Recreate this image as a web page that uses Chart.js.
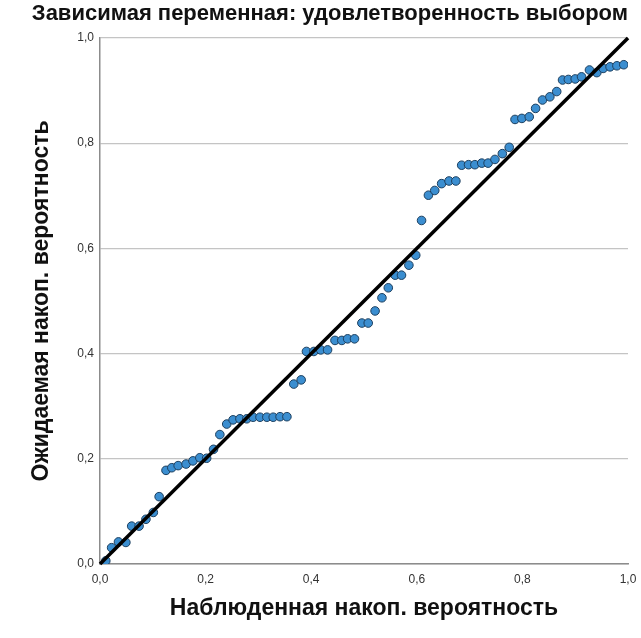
<!DOCTYPE html>
<html>
<head>
<meta charset="utf-8">
<script src="https://cdn.jsdelivr.net/npm/chart.js@4.4.1/dist/chart.umd.min.js"></script>
<style>
  html, body { margin: 0; padding: 0; background: #fff; }
  #wrap { width: 641px; height: 638px; }
</style>
</head>
<body>
<div id="wrap"><canvas id="chart"></canvas></div>
<script>
// observed cumulative probability (x) and expected cumulative probability (y)
const observed = [
  0.011, 0.022, 0.035, 0.049, 0.060, 0.074, 0.087, 0.101, 0.112, 0.125,
  0.136, 0.148, 0.163, 0.176, 0.189, 0.202, 0.215, 0.227, 0.240, 0.252,
  0.265, 0.278, 0.290, 0.303, 0.316, 0.328, 0.341, 0.354, 0.367, 0.381,
  0.391, 0.405, 0.418, 0.431, 0.445, 0.458, 0.469, 0.482, 0.496, 0.508,
  0.521, 0.534, 0.546, 0.559, 0.571, 0.585, 0.598, 0.609, 0.622, 0.634,
  0.647, 0.661, 0.674, 0.685, 0.698, 0.710, 0.723, 0.735, 0.748, 0.762,
  0.775, 0.786, 0.799, 0.813, 0.825, 0.838, 0.852, 0.865, 0.876, 0.887,
  0.900, 0.912, 0.927, 0.941, 0.953, 0.966, 0.979, 0.992
];
const expected = [
  0.006, 0.031, 0.042, 0.041, 0.072, 0.072, 0.085, 0.098, 0.128, 0.178,
  0.183, 0.187, 0.190, 0.196, 0.202, 0.201, 0.218, 0.246, 0.266, 0.274,
  0.276, 0.276, 0.279, 0.279, 0.279, 0.279, 0.280, 0.280, 0.342, 0.350,
  0.404, 0.404, 0.407, 0.407, 0.425, 0.425, 0.428, 0.428, 0.458, 0.458,
  0.481, 0.506, 0.525, 0.549, 0.549, 0.568, 0.587, 0.653, 0.701, 0.710,
  0.723, 0.728, 0.728, 0.758, 0.759, 0.759, 0.762, 0.762, 0.769, 0.780,
  0.792, 0.845, 0.847, 0.850, 0.866, 0.882, 0.888, 0.898, 0.920, 0.921,
  0.922, 0.926, 0.939, 0.934, 0.942, 0.945, 0.947, 0.949
];
const diagonal = [{ x: 0, y: 0 }, { x: 1, y: 1 }];

const chartTitle = 'Зависимая переменная: удовлетворенность выбором';
const xTitle = 'Наблюденная накоп. вероятность';
const yTitle = 'Ожидаемая накоп. вероятность';

const commaFmt = v => Number(v).toFixed(1).replace('.', ',');
const FONT = "'Liberation Sans', Arial, sans-serif";

const ctx = document.getElementById('chart').getContext('2d');
const chart = new Chart(ctx, {
    type: 'scatter',
    data: {
        datasets: [
            {
                type: 'line',
                data: diagonal,
                borderColor: '#000',
                borderWidth: 3.5,
                pointRadius: 0,
                fill: false,
                order: 0,
                clip: 4
            },
            {
                data: observed.map((x, i) => ({ x: x, y: expected[i] })),
                backgroundColor: '#3b8ed0',
                borderColor: '#1d3f5e',
                borderWidth: 1,
                pointRadius: 4.3,
                order: 1
            }
        ]
    },
    options: {
        responsive: true,
        maintainAspectRatio: false,
        animation: false,
        layout: { padding: { left: 0, right: 13, top: 0, bottom: 0 } },
        plugins: {
            legend: { display: false },
            tooltip: { enabled: false },
            title: {
                display: true,
                align: 'end',
                text: chartTitle,
                color: '#111',
                font: { family: FONT, size: 22, weight: 'bold' },
                padding: { top: 1, bottom: 10.5 }
            }
        },
        scales: {
            x: {
                type: 'linear',
                min: 0,
                max: 1,
                ticks: {
                    stepSize: 0.2,
                    color: '#333',
                    font: { family: FONT, size: 12 },
                    padding: 0,
                    maxRotation: 0,
                    callback: commaFmt
                },
                grid: { display: false },
                border: { display: true, color: '#8c8c8c', width: 1.5 },
                title: {
                    display: true,
                    text: xTitle,
                    color: '#111',
                    font: { family: FONT, size: 23, weight: 'bold' },
                    padding: { top: 0, bottom: 16 }
                },
                afterFit: s => { s.height = 74; }
            },
            y: {
                type: 'linear',
                min: 0,
                max: 1,
                ticks: {
                    stepSize: 0.2,
                    color: '#333',
                    font: { family: FONT, size: 12 },
                    padding: 6,
                    callback: commaFmt
                },
                grid: { color: '#c4c4c4', lineWidth: 1.2, drawTicks: false },
                border: { display: true, color: '#8c8c8c', width: 1.5 },
                title: {
                    display: true,
                    text: yTitle,
                    color: '#111',
                    font: { family: FONT, size: 23, weight: 'bold' },
                    padding: { top: 28, bottom: 0 }
                },
                afterFit: s => { s.width = 100; }
            }
        }
    }
});
</script>
</body>
</html>
